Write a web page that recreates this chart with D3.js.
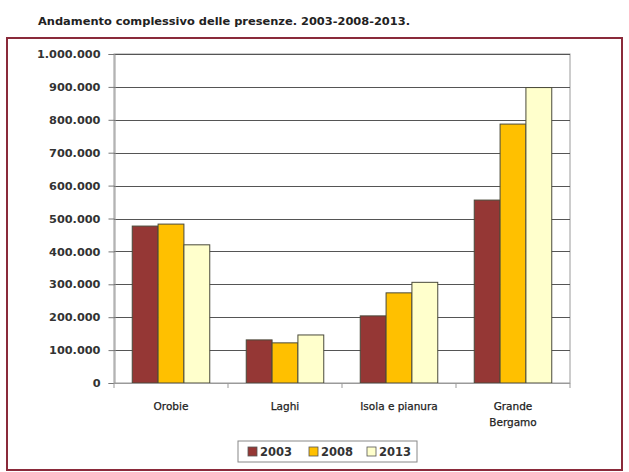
<!DOCTYPE html>
<html><head><meta charset="utf-8">
<script src="https://cdn.jsdelivr.net/npm/d3@7"></script>
<style>body{margin:0;background:#fff}svg{display:block}</style>
</head><body>
<script>
const categories = ["Orobie", "Laghi", "Isola e pianura", "Grande Bergamo"];
const seriesNames = ["2003", "2008", "2013"];
const values2003 = [477000, 131000, 204000, 556000];
const values2008 = [483000, 122000, 274000, 787000];
const values2013 = [420000, 146000, 306000, 898000];
const yTicks = [0, 100000, 200000, 300000, 400000, 500000, 600000, 700000, 800000, 900000, 1000000];
const colors = ["#953735", "#FFC000", "#FFFFCC"];
const title = "Andamento complessivo delle presenze. 2003-2008-2013.";

const W = 629, H = 472;
const svg = d3.select("body").append("svg").attr("width", W).attr("height", H);
const font = "'DejaVu Sans', sans-serif";

svg.append("text").attr("x", 38).attr("y", 25).attr("font-family", font)
  .attr("font-weight", "bold").attr("font-size", 10.3).attr("fill", "#222")
  .attr("textLength", 372).attr("lengthAdjust", "spacingAndGlyphs").text(title);

svg.append("rect").attr("x", 7).attr("y", 38).attr("width", 615).attr("height", 432)
  .attr("fill", "none").attr("stroke", "#8a2a3a").attr("stroke-width", 2);

const m = {l: 114, r: 570, t: 54, b: 383};
const x0 = d3.scaleBand().domain(categories).range([m.l, m.r]).paddingInner(0.32).paddingOuter(0.16);
const x1 = d3.scaleBand().domain(seriesNames).range([0, x0.bandwidth()]);
const y = d3.scaleLinear().domain([0, 1000000]).range([m.b, m.t]);

svg.append("rect").attr("x", m.l).attr("y", m.t).attr("width", m.r - m.l).attr("height", m.b - m.t)
  .attr("fill", "#fff").attr("stroke", "#9a9a9a").attr("stroke-width", 1);

svg.append("g").selectAll("line").data(yTicks.filter(d => d > 0)).join("line")
  .attr("x1", m.l).attr("x2", m.r).attr("y1", d => Math.round(y(d)) + 0.5).attr("y2", d => Math.round(y(d)) + 0.5)
  .attr("stroke", "#555").attr("stroke-width", 1);

const fmt = d => d3.format(",")(d).replace(/,/g, ".");
const ya = svg.append("g").attr("transform", `translate(${m.l + 0.5},0)`)
  .call(d3.axisLeft(y).tickValues(yTicks).tickFormat(fmt).tickSize(6).tickPadding(8));
ya.select(".domain").attr("stroke", "#9a9a9a");
ya.selectAll(".tick line").attr("stroke", "#777");
ya.selectAll("text").attr("font-family", font).attr("font-weight", "bold").attr("font-size", 11.3).attr("fill", "#333");

const seriesVals = [values2003, values2008, values2013];
categories.forEach((c, ci) => {
  seriesNames.forEach((s, si) => {
    const v = seriesVals[si][ci];
    svg.append("rect").attr("x", x0(c) + x1(s)).attr("y", y(v))
      .attr("width", x1.bandwidth()).attr("height", y(0) - y(v))
      .attr("fill", colors[si]).attr("stroke", "#4a4a3a").attr("stroke-width", 1);
  });
});

const step = (m.r - m.l) / categories.length;
svg.append("line").attr("x1", m.l).attr("x2", m.r).attr("y1", m.b + 0.5).attr("y2", m.b + 0.5).attr("stroke", "#9a9a9a");
d3.range(categories.length + 1).forEach(i => {
  svg.append("line").attr("x1", m.l + i * step).attr("x2", m.l + i * step)
    .attr("y1", m.b).attr("y2", m.b + 5).attr("stroke", "#999");
});
const labelLines = [["Orobie"], ["Laghi"], ["Isola e pianura"], ["Grande", "Bergamo"]];
categories.forEach((c, ci) => {
  const cx = x0(c) + x0.bandwidth() / 2;
  const t = svg.append("text").attr("x", cx).attr("y", 410)
    .attr("text-anchor", "middle").attr("font-family", font).attr("font-size", 10.5)
    .attr("fill", "#222").attr("stroke", "#222").attr("stroke-width", 0.25);
  labelLines[ci].forEach((l, li) => t.append("tspan").attr("x", cx).attr("dy", li ? 16 : 0).text(l));
});

const lg = svg.append("g");
lg.append("rect").attr("x", 238).attr("y", 441).attr("width", 179).attr("height", 21)
  .attr("fill", "#fff").attr("stroke", "#888");
const lx = [248, 309, 367];
seriesNames.forEach((s, i) => {
  lg.append("rect").attr("x", lx[i]).attr("y", 447).attr("width", 9).attr("height", 9)
    .attr("fill", colors[i]).attr("stroke", "#555").attr("stroke-width", 0.8);
  lg.append("text").attr("x", lx[i] + 12).attr("y", 456).attr("font-family", font)
    .attr("font-weight", "bold").attr("font-size", 11.5).attr("fill", "#333").text(s);
});
</script>
</body></html>
